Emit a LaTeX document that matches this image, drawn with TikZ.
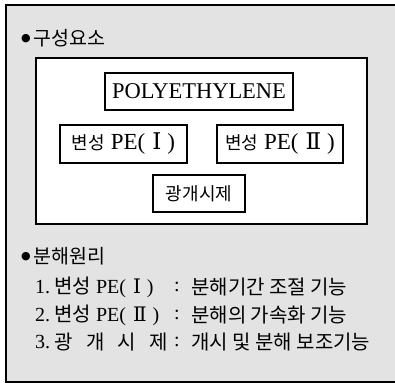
\documentclass[tikz,border=0pt]{standalone}
\usepackage{fontspec}
\setmainfont{Liberation Serif}
\newfontfamily\kr{Noto Sans CJK KR}
\newfontfamily\rn{DejaVu Serif}
\newfontfamily\dv{DejaVu Sans}
\newcommand\K[1]{{\kr #1}}
\newcommand\R[1]{\hspace{7pt}{\rn #1}\hspace{6pt}}
\newcommand\bul{\raisebox{3.5pt}{\dv\fontsize{11}{11}\selectfont ●}\hspace{3pt}}
\tikzset{
  box/.style={draw, line width=1.3pt, fill=white, inner sep=0pt},
  line/.style={anchor=west, inner sep=0pt, font=\fontsize{20}{22}\selectfont},
}
\begin{document}
\begin{tikzpicture}[x=1pt,y=-1pt]
\useasboundingbox (0,0) rectangle (395,384);
\clip (0,0) rectangle (395,384);
\draw[line width=2pt, fill=black!11] (6,5) rectangle (402,382);
\draw[line width=1.8pt, fill=white] (36,58) rectangle (367,224);
\node[line] (h1) at (21,38) {\bul\K{\fontsize{19.5}{20}\selectfont 구성요소}};
\node[box, minimum width=188pt, minimum height=37pt, font=\fontsize{22.5}{24}\selectfont] (poly) at (199,91.5) {POLYETHYLENE};
\node[box, minimum width=127pt, minimum height=38pt, font=\fontsize{23}{24}\selectfont] (pe1) at (123.5,144) {\K{\fontsize{18}{20}\selectfont 변성} PE(\R{Ⅰ})};
\node[box, minimum width=126pt, minimum height=38pt, font=\fontsize{23}{24}\selectfont] (pe2) at (280,144) {\K{\fontsize{18}{20}\selectfont 변성} PE(\R{Ⅱ})};
\node[box, minimum width=92pt, minimum height=37pt, font=\fontsize{18}{20}\selectfont] (gk) at (199,193.5) {\K{광개시제}};
\node[line] (h2) at (21,256) {\bul\K{\fontsize{19.5}{20}\selectfont 분해원리}};
\node[line] (n1) at (35,287) {1.};
\node[line] (l1) at (54,287) {\K{변성} PE(\R{Ⅰ})};
\node[line] (c1) at (174,287) {:};
\node[line] (r1) at (191,287) {\K{분해기간 조절 기능}};
\node[line] (n2) at (35,315) {2.};
\node[line] (l2) at (54,315) {\K{변성} PE(\R{Ⅱ})};
\node[line] (c2) at (174,315) {:};
\node[line] (r2) at (191,315) {\K{분해의 가속화 기능}};
\node[line] (n3) at (35,342) {3.};
\node[line] (l3) at (54,342) {\makebox[114pt][s]{\K{광 개 시 제}}};
\node[line] (c3) at (174,342) {:};
\node[line] (r3) at (191,342) {\K{개시 및 분해 보조기능}};
\end{tikzpicture}
\end{document}
